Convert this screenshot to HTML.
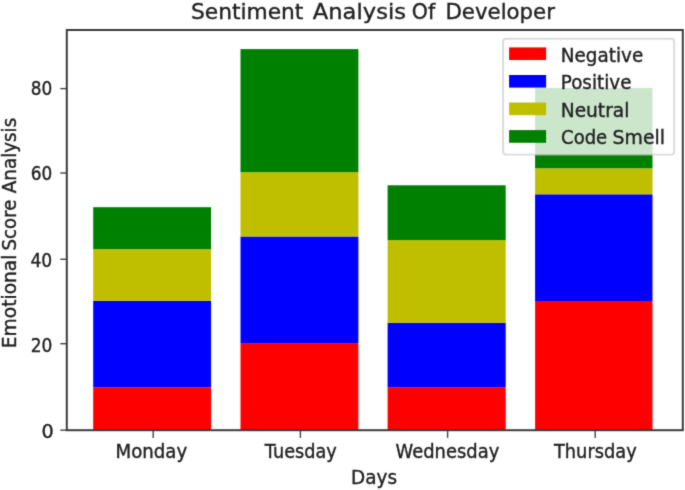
<!DOCTYPE html>
<html lang="en">
<head>
<meta charset="utf-8">
<title>Sentiment Analysis Of Developer</title>
<style>
  html, body { margin: 0; padding: 0; background: #ffffff; }
  body { width: 685px; height: 490px; overflow: hidden; }
  svg { display: block; }
  text { font-family: "DejaVu Sans", "Liberation Sans", sans-serif; fill: #222222; stroke: #222222; stroke-width: 0.36px; }
  .t18 { font-size: 18px; }
  .title { font-size: 21.6px; }
</style>
</head>
<body>
<svg width="685" height="490" viewBox="0 0 685 490">
  <defs>
    <filter id="noop" x="0" y="0" width="685" height="490" filterUnits="userSpaceOnUse"><feOffset dx="0" dy="0"/></filter>
    <filter id="soft" x="0" y="0" width="685" height="490" filterUnits="userSpaceOnUse" color-interpolation-filters="sRGB"><feConvolveMatrix order="3" kernelMatrix="0.01690 0.09620 0.01690 0.09620 0.54760 0.09620 0.01690 0.09620 0.01690" divisor="1" edgeMode="duplicate" preserveAlpha="false"/></filter>
  </defs>
  <g filter="url(#soft)">
  <rect x="0" y="0" width="685" height="490" fill="#ffffff"/>
  <g>

  <g id="bars">
    <!-- Monday -->
    <rect x="93.2" y="387.3" width="117.9" height="42.9" fill="#ff0000"/>
    <rect x="93.2" y="300.8" width="117.9" height="86.5" fill="#0000ff"/>
    <rect x="93.2" y="249.2" width="117.9" height="51.6" fill="#bfbf00"/>
    <rect x="93.2" y="207.2" width="117.9" height="42.0" fill="#008000"/>
    <!-- Tuesday -->
    <rect x="240.5" y="343.1" width="117.9" height="87.1" fill="#ff0000"/>
    <rect x="240.5" y="236.5" width="117.9" height="106.6" fill="#0000ff"/>
    <rect x="240.5" y="172.2" width="117.9" height="64.3" fill="#bfbf00"/>
    <rect x="240.5" y="49.1" width="117.9" height="123.1" fill="#008000"/>
    <!-- Wednesday -->
    <rect x="387.6" y="387.2" width="118.1" height="43.0" fill="#ff0000"/>
    <rect x="387.6" y="322.8" width="118.1" height="64.4" fill="#0000ff"/>
    <rect x="387.6" y="240.1" width="118.1" height="82.7" fill="#bfbf00"/>
    <rect x="387.6" y="185.3" width="118.1" height="54.8" fill="#008000"/>
    <!-- Thursday -->
    <rect x="535.1" y="301.0" width="117.4" height="129.2" fill="#ff0000"/>
    <rect x="535.1" y="194.3" width="117.4" height="106.7" fill="#0000ff"/>
    <rect x="535.1" y="168.3" width="117.4" height="26.0" fill="#bfbf00"/>
    <rect x="535.1" y="87.9" width="117.4" height="80.4" fill="#008000"/>
  </g>

  <!-- ticks -->
  <g stroke="#444444" stroke-width="1.4" fill="none">
    <line x1="153.2" y1="430.2" x2="153.2" y2="437.9"/>
    <line x1="300.4" y1="430.2" x2="300.4" y2="437.9"/>
    <line x1="447.6" y1="430.2" x2="447.6" y2="437.9"/>
    <line x1="595.2" y1="430.2" x2="595.2" y2="437.9"/>
    <line x1="60.3" y1="430.2" x2="66.8" y2="430.2"/>
    <line x1="60.3" y1="343.7" x2="66.8" y2="343.7"/>
    <line x1="60.3" y1="259.3" x2="66.8" y2="259.3"/>
    <line x1="60.3" y1="173.0" x2="66.8" y2="173.0"/>
    <line x1="60.3" y1="88.6" x2="66.8" y2="88.6"/>
  </g>

  <!-- spines -->
  <rect x="66.8" y="30.0" width="616.0" height="400.2" fill="none" stroke="#3c3c3c" stroke-width="2.0"/>

  <!-- legend frame + swatches -->
  <g id="legend">
    <rect x="503.1" y="38.8" width="171.1" height="115.8" rx="3" ry="3" fill="#ffffff" fill-opacity="0.8" stroke="#cccccc" stroke-opacity="0.7" stroke-width="1.9"/>
    <rect x="509.1" y="47.4" width="37" height="12.6" fill="#ff0000"/>
    <rect x="509.1" y="75.0" width="37" height="12.6" fill="#0000ff"/>
    <rect x="509.1" y="102.5" width="37" height="12.7" fill="#bfbf00"/>
    <rect x="509.1" y="130.1" width="37" height="12.7" fill="#008000"/>
  </g>

  </g>
  <g filter="url(#noop)">
  <text class="title"><tspan x="190.94" y="19.2" textLength="112.46" lengthAdjust="spacingAndGlyphs">Sentiment</tspan> <tspan x="312.79" y="19.2" textLength="93.25" lengthAdjust="spacingAndGlyphs">Analysis</tspan> <tspan x="411.79" y="19.2" textLength="23.38" lengthAdjust="spacingAndGlyphs">Of</tspan> <tspan x="445.43" y="19.2" textLength="109.53" lengthAdjust="spacingAndGlyphs">Developer</tspan></text>
  <text class="t18" transform="translate(0 458.4) scale(1 1.065)" x="115.48" y="0" textLength="71.78" lengthAdjust="spacingAndGlyphs">Monday</text>
  <text class="t18" transform="translate(0 458.4) scale(1 1.065)" x="264.83" y="0" textLength="71.96" lengthAdjust="spacingAndGlyphs">Tuesday</text>
  <text class="t18" transform="translate(0 458.4) scale(1 1.065)" x="395.51" y="0" textLength="103.84" lengthAdjust="spacingAndGlyphs">Wednesday</text>
  <text class="t18" transform="translate(0 458.4) scale(1 1.065)" x="553.94" y="0" textLength="82.80" lengthAdjust="spacingAndGlyphs">Thursday</text>
  <text class="t18" transform="translate(0 484.1) scale(1 1.07)" x="351.04" y="0" textLength="46.05" lengthAdjust="spacingAndGlyphs">Days</text>
  <text class="t18" transform="translate(0 437.9) scale(1 1.085)" x="41.49" y="0" textLength="12.22" lengthAdjust="spacingAndGlyphs">0</text>
  <text class="t18" transform="translate(0 351.6) scale(1 1.085)" x="30.63" y="0" textLength="21.73" lengthAdjust="spacingAndGlyphs">20</text>
  <text class="t18" transform="translate(0 266.9) scale(1 1.085)" x="30.48" y="0" textLength="21.78" lengthAdjust="spacingAndGlyphs">40</text>
  <text class="t18" transform="translate(0 180.4) scale(1 1.085)" x="30.71" y="0" textLength="21.49" lengthAdjust="spacingAndGlyphs">60</text>
  <text class="t18" transform="translate(0 94.5) scale(1 1.085)" x="30.65" y="0" textLength="21.49" lengthAdjust="spacingAndGlyphs">80</text>
  <text class="t18" transform="translate(0 61.9) scale(1 1.065)" x="560.75" y="0" textLength="82.48" lengthAdjust="spacingAndGlyphs">Negative</text>
  <text class="t18" transform="translate(0 89.4) scale(1 1.065)" x="560.75" y="0" textLength="70.68" lengthAdjust="spacingAndGlyphs">Positive</text>
  <text class="t18" transform="translate(0 116.9) scale(1 1.065)" x="560.71" y="0" textLength="68.68" lengthAdjust="spacingAndGlyphs">Neutral</text>
  <text class="t18" transform="translate(0 144.4) scale(1 1.065)"><tspan x="561.05" y="0" textLength="46.16" lengthAdjust="spacingAndGlyphs">Code</tspan> <tspan x="612.52" y="0" textLength="52.53" lengthAdjust="spacingAndGlyphs">Smell</tspan></text>
  <text class="t18" transform="translate(15.7 0) rotate(-90) scale(1 1.115)"><tspan x="-348.19" y="0" textLength="93.67" lengthAdjust="spacingAndGlyphs">Emotional</tspan> <tspan x="-250.41" y="0" textLength="50.71" lengthAdjust="spacingAndGlyphs">Score</tspan> <tspan x="-193.20" y="0" textLength="75.41" lengthAdjust="spacingAndGlyphs">Analysis</tspan></text>
  </g>
  </g>
</svg>
</body>
</html>
